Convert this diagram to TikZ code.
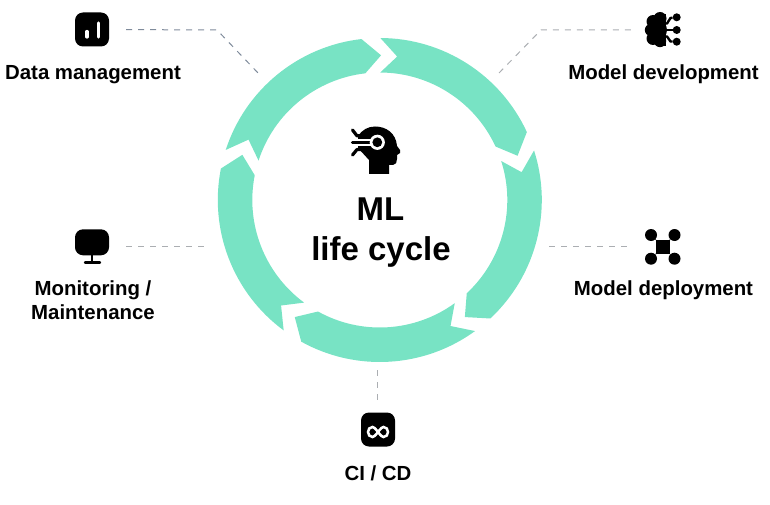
\documentclass[tikz,border=0pt]{standalone}
\usepackage{fontspec}
\setmainfont{Liberation Sans}
\usepackage{xcolor}
\usetikzlibrary{positioning}
\definecolor{ringgreen}{HTML}{78E3C4}
\definecolor{leaderblue}{HTML}{7F8B9B}
\definecolor{leadergray}{HTML}{ABAEB2}
\tikzset{
	ringseg/.style={fill=ringgreen},
	lbl/.style={font=\fontsize{20.4}{24}\selectfont\bfseries,align=center,inner sep=0pt},
	bigl/.style={font=\fontsize{33}{40}\selectfont\bfseries,inner sep=0pt},
	iconbox/.style={fill=black,rounded corners=8pt,minimum size=34pt,inner sep=0pt},
	leader/.style={line width=1pt,leadergray,dash pattern=on 6pt off 6pt},
	devdot/.style={circle,fill=black,minimum size=8pt,inner sep=0pt},
}
\begin{document}
\begin{tikzpicture}[x=1pt,y=-1pt]
	\useasboundingbox (0,0) rectangle (770,505);
	\begin{scope}[shift={(379.8,200)}]
		\foreach \a/\b in {198/263.5,270.2/335.2,342.2/407,54/119,126.4/191.2}
			\fill[ringseg] (\a:162) arc[start angle=\a,end angle=\b,radius=162] -- ({\b+7}:144.7) -- (\b:127.5) arc[start angle=\b,end angle=\a,radius=127.5] -- ({\a+6.7}:144.5) -- cycle;
	\end{scope}

	\fill (369,174) -- (389,174) -- (389,165) -- (393,165) .. controls (396,165) and (397,162) .. (397,159) -- (397,155) -- (400,153) -- (400,150) -- (397,146) .. controls (396,133) and (386,126.5) .. (375,126.5) .. controls (368,126.5) and (362,130) .. (358,136) -- (358,148) -- (369,160) -- cycle;
	\fill[white] (350,138.6) rectangle (372,146.4);
	\draw[line width=3.2pt,line cap=round] (352.5,142.5) -- (372,142.5);
	\draw[line width=3.2pt,line cap=round,line join=round] (352.5,130) -- (357,135.8) -- (364,135.8);
	\draw[line width=3.2pt,line cap=round,line join=round] (352.5,155) -- (357,149.5) -- (364,149.5);
	\fill[white] (377.3,142.3) circle[radius=7.6];
	\fill (377.3,142.3) circle[radius=4.9];

	\node[bigl] (mltitle) at (380.5,209.5) {ML};
	\node[bigl] (cycletitle) at (381,252) {life cycle};

	\node[iconbox] (dataicon) at (92,29.5) {};
	\draw[white,line width=3.2pt,line cap=round] (87,31.5) -- (87,37);
	\draw[white,line width=3.2pt,line cap=round] (98.3,23) -- (98.3,37);
	\node[lbl] (datalabel) at (93,74.5) {Data management};

	\node[iconbox,minimum height=26pt] (monitoricon) at (92,242.3) {};
	\draw[line width=2pt] (92,255) -- (92,262);
	\draw[line width=2.4pt,line cap=round] (85,262.5) -- (100,262.5);
	\node[lbl] (monitorlabel) at (93,300) {Monitoring /\\Maintenance};

	\node[iconbox] (cicdicon) at (378,429.5) {};
	\draw[white,line width=2.5pt] (378,432) .. controls (375,428) and (373.5,427) .. (372.5,427) .. controls (369.7,427) and (368,429.3) .. (368,432) .. controls (368,434.7) and (369.7,437) .. (372.5,437) .. controls (373.5,437) and (375,436) .. (378,432) .. controls (381,428) and (382.5,427) .. (383.5,427) .. controls (386.3,427) and (388,429.3) .. (388,432) .. controls (388,434.7) and (386.3,437) .. (383.5,437) .. controls (382.5,437) and (381,436) .. (378,432) -- cycle;
	\node[lbl] (cicdlabel) at (378,473.5) {CI / CD};

	\fill (657,30) circle[radius=10];
	\fill (660,18.5) circle[radius=6.5];
	\fill (653,21.5) circle[radius=6.5];
	\fill (650.8,30) circle[radius=6];
	\fill (653,38.5) circle[radius=6.5];
	\fill (660,41) circle[radius=6.2];
	\fill (658,14) rectangle (666,46);
	\node[devdot] (devtop) at (676.7,17.3) {};
	\node[devdot] (devmid) at (676.7,30) {};
	\node[devdot] (devbot) at (676.7,41.7) {};
	\coordinate (devhub) at (662,30);
	\draw[line width=2.4pt,line join=round] (devtop) -- (670.5,18) -- (667,23.5) -- (662,23.5);
	\draw[line width=2.4pt] (devmid) -- (devhub);
	\draw[line width=2.4pt,line join=round] (devbot) -- (670.5,41.5) -- (667,36.5) -- (662,36.5);
	\node[lbl] (devlabel) at (663.5,74.5) {Model development};

	\node[fill=black,minimum size=14pt,inner sep=0pt] (deployicon) at (663,247) {};
	\foreach \n/\x/\y in {nw/651/235,ne/674.5/235,sw/651/258.7,se/674.5/258.7}{
		\node[circle,fill=black,minimum size=12pt,inner sep=0pt] (dep\n) at (\x,\y) {};
		\draw[line width=1pt] (dep\n) -- (deployicon);
	}
	\node[lbl] (deploylabel) at (663.5,290.5) {Model deployment};

	\coordinate (databend) at (217,30);
	\coordinate (dataend) at (259,74);
	\coordinate (devstart) at (499,73);
	\coordinate (devbend) at (541,30);
	\coordinate (devend) at (632,30);
	\coordinate (monitorend) at (205,246);
	\coordinate (deploystart) at (549,246);
	\coordinate (deployend) at (630,246);
	\coordinate (cicdstart) at (377.5,370);
	\coordinate (cicdend) at (377.5,402);
	\draw[leader,leaderblue,shorten <=17pt] (dataicon.east) -- (databend) -- (dataend);
	\draw[leader] (devstart) -- (devbend) -- (devend);
	\draw[leader,shorten <=17pt] (monitoricon.east |- monitorend) -- (monitorend);
	\draw[leader] (deploystart) -- (deployend);
	\draw[leader] (cicdstart) -- (cicdend);
\end{tikzpicture}
\end{document}
